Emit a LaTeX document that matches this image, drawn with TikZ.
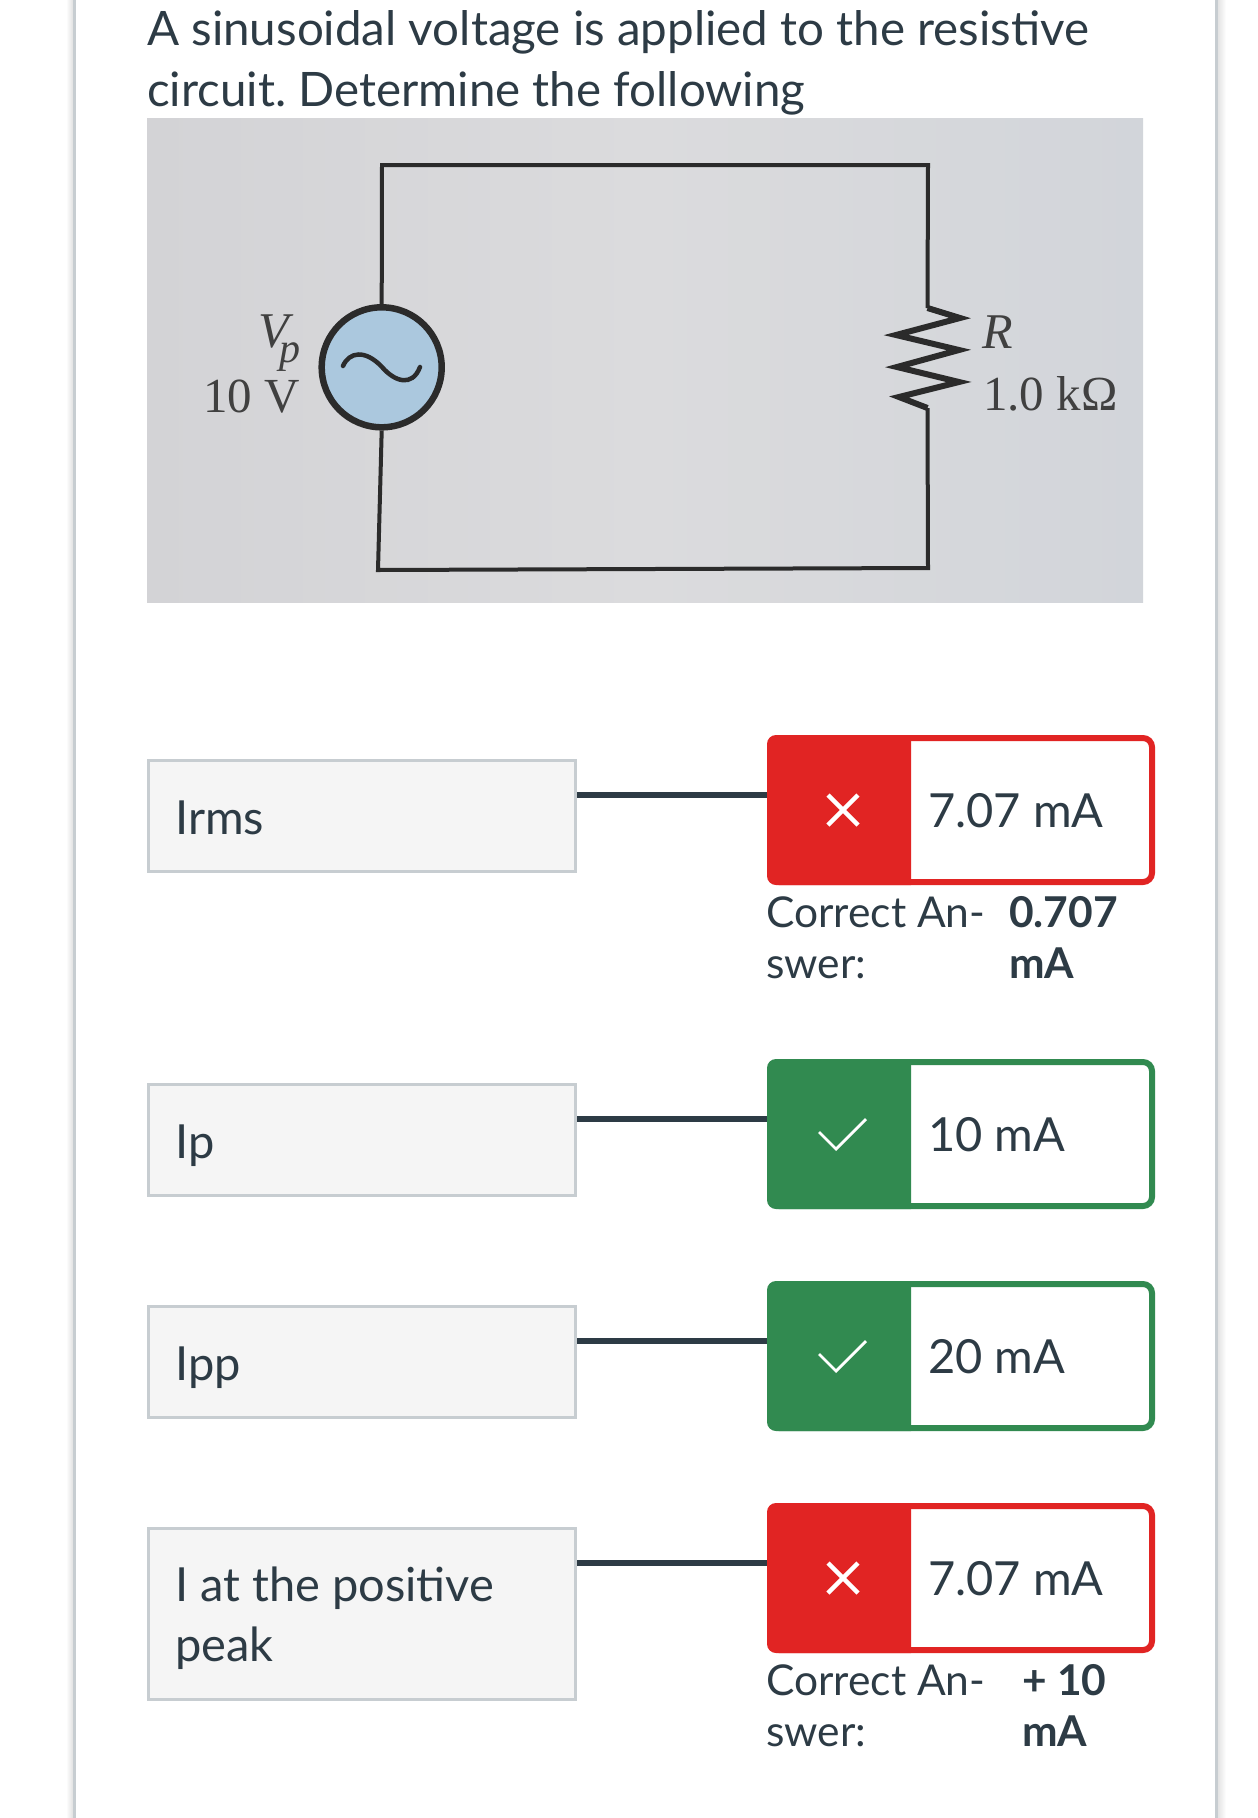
\documentclass[tikz,border=0pt]{standalone}
\usepackage{fontspec}
\setmainfont{Lato}
\newfontfamily\photofont{Liberation Serif}
\definecolor{inkcol}{HTML}{2D3B45}
\definecolor{edgecol}{HTML}{C7CDD1}
\definecolor{wrongcol}{HTML}{E12423}
\definecolor{rightcol}{HTML}{318A50}
\definecolor{srccol}{HTML}{ABC8DE}
\definecolor{wirecol}{HTML}{2B2B2B}
\definecolor{photol}{HTML}{D3D3D6}
\definecolor{photom}{HTML}{DBDBDD}
\definecolor{photor}{HTML}{D2D5DA}
\tikzset{
	lblbox/.style={draw=edgecol,fill=black!4,line width=3pt,rectangle,anchor=north west,minimum width=427pt,minimum height=111pt,inner sep=0pt},
	lbltxt/.style={anchor=base west,inner sep=0pt,text=inkcol,font=\fontsize{47}{60}\selectfont,align=left},
	ansbox/.style={line width=6pt,rectangle,rounded corners=9pt,fill=white,anchor=north west,minimum width=382pt,minimum height=144pt},
	wrongtxt/.style={anchor=base west,inner sep=0pt,text=inkcol,font=\fontsize{42.5}{51}\selectfont,align=left},
	wrongval/.style={wrongtxt,font=\fontsize{42.5}{51}\selectfont\bfseries},
	link/.style={draw=inkcol,line width=5.5pt},
	wire/.style={draw=wirecol,line width=4pt},
	phototxt/.style={anchor=base west,inner sep=0pt,text=black!75,font=\photofont\fontsize{49}{49}\selectfont},
	photoit/.style={phototxt,font=\photofont\itshape\fontsize{50}{50}\selectfont}
}
\begin{document}
\frenchspacing
\begin{tikzpicture}[x=1pt,y=-1pt]
\useasboundingbox (0,0) rectangle (1258,1818);
\shade[left color=white,right color=black!12] (66,0) rectangle (73,1818);
\shade[left color=black!12,right color=white] (1217,0) rectangle (1226,1818);
\foreach \x in {74,1216.5}
	\draw[edgecol,line width=3pt] (\x,0) -- (\x,1818);
\node[lbltxt,font=\fontsize{47.5}{60}\selectfont] (title) at (147,45) {A sinusoidal voltage is applied to the resistive};
\node[lbltxt,font=\fontsize{47.5}{60}\selectfont] (title2) at (147,106) {circuit. Determine the following};
\shade[left color=photol,right color=photor,middle color=photom] (147,118) rectangle (1143,602);
\node[circle,draw=wirecol,fill=srccol,line width=6.5pt,minimum size=120pt,inner sep=0pt] (src) at (381.7,367.3) {};
\coordinate (topl) at (382,165);
\coordinate (topr) at (928,165);
\coordinate (rtop) at (927.5,308);
\coordinate (rbot) at (927.5,408);
\coordinate (botr) at (928,568);
\coordinate (botl) at (378,570);
\draw[wire] (src.north) -- (topl) -- (topr) -- (rtop);
\draw[wire] (rbot) -- (botr) -- (botl) -- (src.south);
\draw[draw=wirecol,line width=6pt] (rtop) -- (960,318) -- (896,335) -- (959,350) -- (897,367) -- (959,382) -- (899,397) -- (rbot);
\draw[draw=wirecol,line width=4.5pt,line cap=round] (343,366) .. controls (349,352) and (365,349) .. (382,367) .. controls (394,381) and (412,388) .. (420,367);
\node[photoit] (vp) at (258,347) {V\hspace{-9pt}\raisebox{-15pt}{\fontsize{42}{42}\selectfont p}};
\node[phototxt] (vval) at (203,412) {10 V};
\node[photoit] (rname) at (982,348) {R};
\node[phototxt] (rval) at (983,410) {1.0 kΩ};
\foreach \n/\y/\txt in {irms/759/Irms,ip/1083/Ip,ipp/1305/Ipp}{
	\node[lblbox] (lbl\n) at (147,\y) {};
	\node[lbltxt] (txt\n) at (175,\y+75) {\txt};
}
\node[lblbox,minimum height=171pt] (lblpk) at (147,1527) {};
\node[lbltxt] (txtpk) at (175,1601) {I at the positive};
\node[lbltxt] (txtpk2) at (175,1661) {peak};
\foreach \n/\y/\col/\txt in {irms/735/wrongcol/7.07 mA,ip/1059/rightcol/10 mA,ipp/1281/rightcol/20 mA,pk/1503/wrongcol/7.07 mA}{
	\node[ansbox,draw=\col] (ans\n) at (767,\y) {};
	\fill[\col,rounded corners=9pt] ([xshift=144pt]ans\n.north west) -- (ans\n.north west) -- (ans\n.south west) [sharp corners] -- ([xshift=144pt]ans\n.south west) -- cycle;
	\node[lbltxt] (val\n) at (928,\y+92) {\txt};
	\draw[link] ([yshift=-36pt]lbl\n.north east) -- ([yshift=-60pt]ans\n.north west);
}
\foreach \y in {735,1503}{
	\draw[white,line width=4.5pt] (828,\y+60) -- (858,\y+90);
	\draw[white,line width=4.5pt] (858,\y+60) -- (828,\y+90);
}
\foreach \y in {1059,1281}
	\draw[white,line width=2.8pt] (819,\y+73) -- (836,\y+90) -- (866,\y+60);
\node[wrongtxt] (corr1) at (766,927) {Correct An-};
\node[wrongtxt] (corr1b) at (766,978) {swer:};
\node[wrongval] (corrv1) at (1009,927) {0.707};
\node[wrongval] (corrv1b) at (1009,978) {mA};
\node[wrongtxt] (corr2) at (766,1695) {Correct An-};
\node[wrongtxt] (corr2b) at (766,1746) {swer:};
\node[wrongval] (corrv2) at (1022,1695) {+ 10};
\node[wrongval] (corrv2b) at (1022,1746) {mA};
\end{tikzpicture}
\end{document}
